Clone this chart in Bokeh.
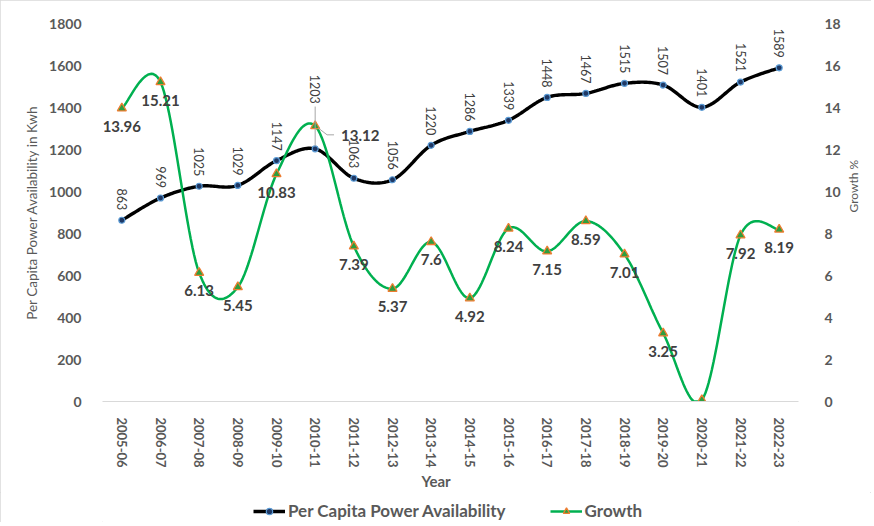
import math
import numpy as np
from bokeh.plotting import figure
from bokeh.layouts import column
from bokeh.models import (Range1d, LinearAxis, FixedTicker, Legend, LegendItem,
                          ColumnDataSource)
from bokeh.core.properties import value
from bokeh.embed import file_html
from bokeh.resources import INLINE

years = ["2005-06", "2006-07", "2007-08", "2008-09", "2009-10", "2010-11",
         "2011-12", "2012-13", "2013-14", "2014-15", "2015-16", "2016-17",
         "2017-18", "2018-19", "2019-20", "2020-21", "2021-22", "2022-23"]
per_capita = [863, 969, 1025, 1029, 1147, 1203, 1063, 1056, 1220, 1286,
              1339, 1448, 1467, 1515, 1507, 1401, 1521, 1589]
growth = [13.96, 15.21, 6.13, 5.45, 10.83, 13.12, 7.39, 5.37, 7.6, 4.92,
          8.24, 7.15, 8.59, 7.01, 3.25, 0.07, 7.92, 8.19]

FONT = "Lato"
GRAY = "#595959"
LABEL = "#404040"
BLACK_LINE = dict(line_color="black", line_width=3.4)
GREEN_LINE = dict(line_color="#00B050", line_width=2.5)
PC_MARK = dict(marker="circle", size=6, fill_color="#1F3864", line_color="#5B9BD5", line_width=1.2)
G_MARK = dict(marker="triangle", size=9, fill_color="#2E9E3E", line_color="#ED7D31", line_width=1.3)

xs = list(range(len(years)))


def smooth(xv, yv, n=24):
    pts = np.column_stack([xv, yv]).astype(float)
    P = np.vstack([pts[0], pts, pts[-1]])
    t = np.linspace(0, 1, n)[:, None]
    out = []
    for i in range(len(pts) - 1):
        p0, p1, p2, p3 = P[i], P[i + 1], P[i + 2], P[i + 3]
        c1 = p1 + (p2 - p0) / 6.0
        c2 = p2 - (p3 - p1) / 6.0
        seg = ((1 - t) ** 3) * p1 + 3 * ((1 - t) ** 2) * t * c1 + 3 * (1 - t) * t ** 2 * c2 + t ** 3 * p2
        out.append(seg if i == 0 else seg[1:])
    s = np.vstack(out)
    return s[:, 0], s[:, 1]


W = 871
H1 = 492
H2 = 30
p = figure(width=W, height=H1, x_range=Range1d(-0.5, 17.5), y_range=Range1d(0, 1800),
           output_backend="svg", toolbar_location=None,
           min_border_left=102, min_border_right=68, min_border_top=23, min_border_bottom=H1 - 407)
p.extra_y_ranges = {"g": Range1d(0, 18)}
p.outline_line_color = None
p.xgrid.visible = False
p.ygrid.visible = False

# px -> data conversions (frame 701 x 384 px)
UX = 18.0 / 701.0
UY = 1800.0 / 384.0
UG = 18.0 / 384.0

# left axis
ya = p.yaxis[0]
ya.ticker = FixedTicker(ticks=list(range(0, 1801, 200)))
ya.axis_line_color = None
ya.major_tick_line_color = None
ya.minor_tick_line_color = None
ya.major_label_standoff = 15
ya.major_label_text_font = FONT
ya.major_label_text_font_style = "bold"
ya.major_label_text_font_size = "14px"
ya.major_label_text_color = GRAY
ya.axis_label = "Per Capita Power Availability in Kwh"
ya.axis_label_text_font = FONT
ya.axis_label_text_font_style = "normal"
ya.axis_label_text_font_size = "13.5px"
ya.axis_label_text_color = GRAY
ya.axis_label_standoff = 6

# right axis
ra = LinearAxis(y_range_name="g", ticker=FixedTicker(ticks=list(range(0, 19, 2))))
ra.axis_line_color = None
ra.major_tick_line_color = None
ra.minor_tick_line_color = None
ra.major_label_standoff = 20
ra.major_label_text_font = FONT
ra.major_label_text_font_style = "bold"
ra.major_label_text_font_size = "14px"
ra.major_label_text_color = GRAY
ra.axis_label = "Growth %"
ra.axis_label_text_font = FONT
ra.axis_label_text_font_style = "normal"
ra.axis_label_text_font_size = "12px"
ra.axis_label_text_color = GRAY
ra.axis_label_standoff = 10
try:
    ra.axis_label_orientation = math.pi / 2
except Exception:
    pass
p.add_layout(ra, "right")

# x axis
xa = p.xaxis[0]
xa.ticker = FixedTicker(ticks=xs)
xa.major_label_overrides = {i: y for i, y in enumerate(years)}
xa.major_label_orientation = -math.pi / 2
xa.axis_line_color = "#D9D9D9"
xa.axis_line_width = 1.2
xa.major_tick_line_color = None
xa.minor_tick_line_color = None
xa.major_label_standoff = 10
xa.major_label_text_font = FONT
xa.major_label_text_font_style = "bold"
xa.major_label_text_font_size = "13px"
xa.major_label_text_color = GRAY
xa.axis_label = "Year" + "\u00a0" * 8
xa.axis_label_text_font = FONT
xa.axis_label_text_font_style = "bold"
xa.axis_label_text_font_size = "15px"
xa.axis_label_text_color = GRAY
xa.axis_label_standoff = 1

# curves
sx1, sy1 = smooth(xs, per_capita)
sx2, sy2 = smooth(xs, growth)
p.line(sx1, sy1, **BLACK_LINE)
p.line(sx2, np.clip(sy2, 0, None), y_range_name="g", **GREEN_LINE)

p.scatter(xs, per_capita, **PC_MARK)
p.scatter(xs, growth, y_range_name="g", **G_MARK)

# per-capita labels (vertical, above points)
pc_off = [-45 if i == 5 else -10 for i in xs]
src1 = ColumnDataSource(dict(x=xs, y=per_capita, t=[str(v) for v in per_capita], yo=pc_off))
p.text(x="x", y="y", text="t", y_offset="yo", source=src1, angle=-math.pi / 2,
       text_align="right", text_baseline="middle", text_font=value(FONT),
       text_font_size="12.5px", text_color=LABEL)

# growth labels (below points)
g_xo = [45 if i == 5 else 0 for i in xs]
g_yo = [10 if i == 5 else 18 for i in xs]
src2 = ColumnDataSource(dict(x=xs, y=growth, t=[f"{v:g}" for v in growth], xo=g_xo, yo=g_yo))
p.text(x="x", y="y", text="t", x_offset="xo", y_offset="yo", source=src2, y_range_name="g",
       text_align="center", text_baseline="middle", text_font=value(FONT),
       text_font_size="15px", text_font_style="bold", text_color=LABEL)

# leader lines
i5 = 5
p.segment(x0=[xs[i5]], y0=[per_capita[i5] + 3 * UY], x1=[xs[i5]], y1=[per_capita[i5] + 43 * UY],
          line_color="#A6A6A6", line_width=1)
p.line(x=[xs[i5] + 3 * UX, xs[i5] + 12 * UX, xs[i5] + 19 * UX],
       y=[growth[i5] - 2 * UG, growth[i5] - 9 * UG, growth[i5] - 9 * UG],
       line_color="#A6A6A6", line_width=1, y_range_name="g")

# legend strip (second figure; its frame is aligned with the chart's frame)
p2 = figure(width=W, height=H2, x_range=Range1d(0, 1), y_range=Range1d(0, 1),
            output_backend="svg", toolbar_location=None,
            min_border_left=0, min_border_right=0, min_border_top=0, min_border_bottom=0)
p2.xaxis.visible = False
p2.yaxis.visible = False
p2.xgrid.visible = False
p2.ygrid.visible = False
p2.outline_line_color = None
l1 = p2.line([-5, -4], [-5, -5], **BLACK_LINE)
m1 = p2.scatter([-5], [-5], **PC_MARK)
l2 = p2.line([-5, -4], [-5, -5], **GREEN_LINE)
m2 = p2.scatter([-5], [-5], **G_MARK)
legend = Legend(items=[LegendItem(label="Per Capita Power Availability", renderers=[l1, m1]),
                       LegendItem(label="Growth", renderers=[l2, m2])],
                orientation="horizontal", location=(151, 1), glyph_width=32, glyph_height=16,
                label_height=18, spacing=44, label_standoff=3, padding=0, margin=0,
                border_line_color=None, background_fill_alpha=0,
                label_text_font=FONT, label_text_font_style="bold",
                label_text_font_size="17px", label_text_color=GRAY)
p2.add_layout(legend, "center")

layout = column(p, p2, spacing=0,
                styles={"outline": "1px solid #D9D9D9", "outline-offset": "-1px"})

open("out.html", "w").write(file_html(layout, INLINE))
